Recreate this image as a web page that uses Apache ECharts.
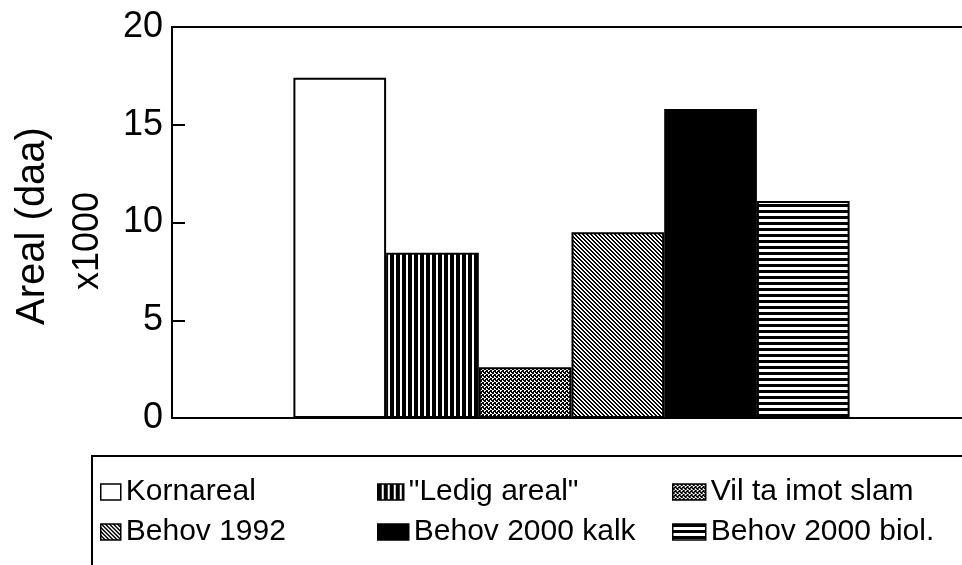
<!DOCTYPE html>
<html><head><meta charset="utf-8">
<script src="https://cdn.jsdelivr.net/npm/echarts@6/dist/echarts.min.js"></script>
<style>html,body{margin:0;padding:0;background:#fff}#c{width:962px;height:565px}</style>
</head><body><div id="c"></div>
<script>
const seriesNames = ['Kornareal', '"Ledig areal"', 'Vil ta imot slam', 'Behov 1992', 'Behov 2000 kalk', 'Behov 2000 biol.'];
const seriesValues = [17.4, 8.45, 2.6, 9.5, 15.8, 11.1];
const yTicks = [0, 5, 10, 15, 20];
const categories = [''];

function pattern(kind) {
  const c = document.createElement('canvas');
  let w = 6, h = 6;
  if (kind === 'diag') { w = 4; h = 4; }
  if (kind === 'checker') { w = 4; h = 4; }
  c.width = w; c.height = h;
  const g = c.getContext('2d');
  g.fillStyle = '#fff'; g.fillRect(0, 0, w, h);
  g.fillStyle = '#000';
  if (kind === 'vstripe') g.fillRect(0, 0, 4, h);
  if (kind === 'hstripe') g.fillRect(0, 0, w, 3);
  if (kind === 'checker') {
    const m = ['1101', '1100', '0011', '0111'];
    for (let y = 0; y < 4; y++) for (let x = 0; x < 4; x++) if (m[y][x] === '1') g.fillRect(x, y, 1, 1);
  }
  if (kind === 'diag') {
    for (let y = 0; y < h; y++) for (let x = 0; x < w; x++) {
      if ((((x - y) % 4) + 4) % 4 < 2) g.fillRect(x, y, 1, 1);
    }
  }
  return { image: c, repeat: 'repeat' };
}
const fills = ['#ffffff', pattern('vstripe'), pattern('checker'), pattern('diag'), '#000000', pattern('hstripe')];

const chart = echarts.init(document.getElementById('c'));
const FONT = 'Liberation Sans';
const series = seriesNames.map((n, i) => ({
  name: n, type: 'bar', data: [seriesValues[i]],
  barWidth: 92.7, barGap: '0%',
  itemStyle: { color: fills[i], borderColor: '#000', borderWidth: 2 },
  emphasis: { disabled: true }, animation: false
}));
const legPos = [
  { left: 100, top: 477, w: 20 },
  { left: 377, top: 477, w: 26 },
  { left: 672, top: 477, w: 33 },
  { left: 100, top: 517, w: 20 },
  { left: 377, top: 517, w: 31 },
  { left: 672, top: 517, w: 33 }
];
const legends = seriesNames.map((n, i) => ({
  data: [n], left: legPos[i].left, top: legPos[i].top,
  itemWidth: legPos[i].w, itemHeight: 16, selectedMode: false,
  padding: 0, icon: 'rect',
  itemStyle: { borderColor: '#000', borderWidth: 1.5 },
  textStyle: { fontFamily: FONT, fontSize: 30, color: '#000' }
}));
chart.setOption({
  animation: false,
  backgroundColor: '#fff',
  grid: { left: 172, top: 27, width: 799, height: 391, outerBoundsMode: 'none', containLabel: false, show: true, borderColor: '#000', borderWidth: 2, backgroundColor: 'transparent' },
  xAxis: { type: 'category', data: categories, axisLine: { lineStyle: { color: '#000', width: 2 } }, axisTick: { show: false }, axisLabel: { show: false } },
  yAxis: {
    type: 'value', min: yTicks[0], max: yTicks[yTicks.length - 1], interval: 5,
    axisLine: { show: true, lineStyle: { color: '#000', width: 2 } },
    axisTick: { show: true, inside: true, length: 13, lineStyle: { color: '#000', width: 2 } },
    splitLine: { show: false },
    axisLabel: { fontFamily: FONT, fontSize: 36, color: '#000', margin: 9 }
  },
  legend: legends,
  graphic: [
    { type: 'rect', shape: { x: 92, y: 456, width: 900, height: 200 }, style: { fill: 'none', stroke: '#000', lineWidth: 2 }, silent: true },
    { type: 'text', x: 33, y: 226, rotation: Math.PI / 2, style: { text: 'Areal (daa)', fontFamily: FONT, fontSize: 40, fill: '#000', align: 'center', verticalAlign: 'middle' } },
    { type: 'text', x: 88, y: 241, rotation: Math.PI / 2, style: { text: 'x1000', fontFamily: FONT, fontSize: 36, fill: '#000', align: 'center', verticalAlign: 'middle' } }
  ],
  series: series
});
</script></body></html>
